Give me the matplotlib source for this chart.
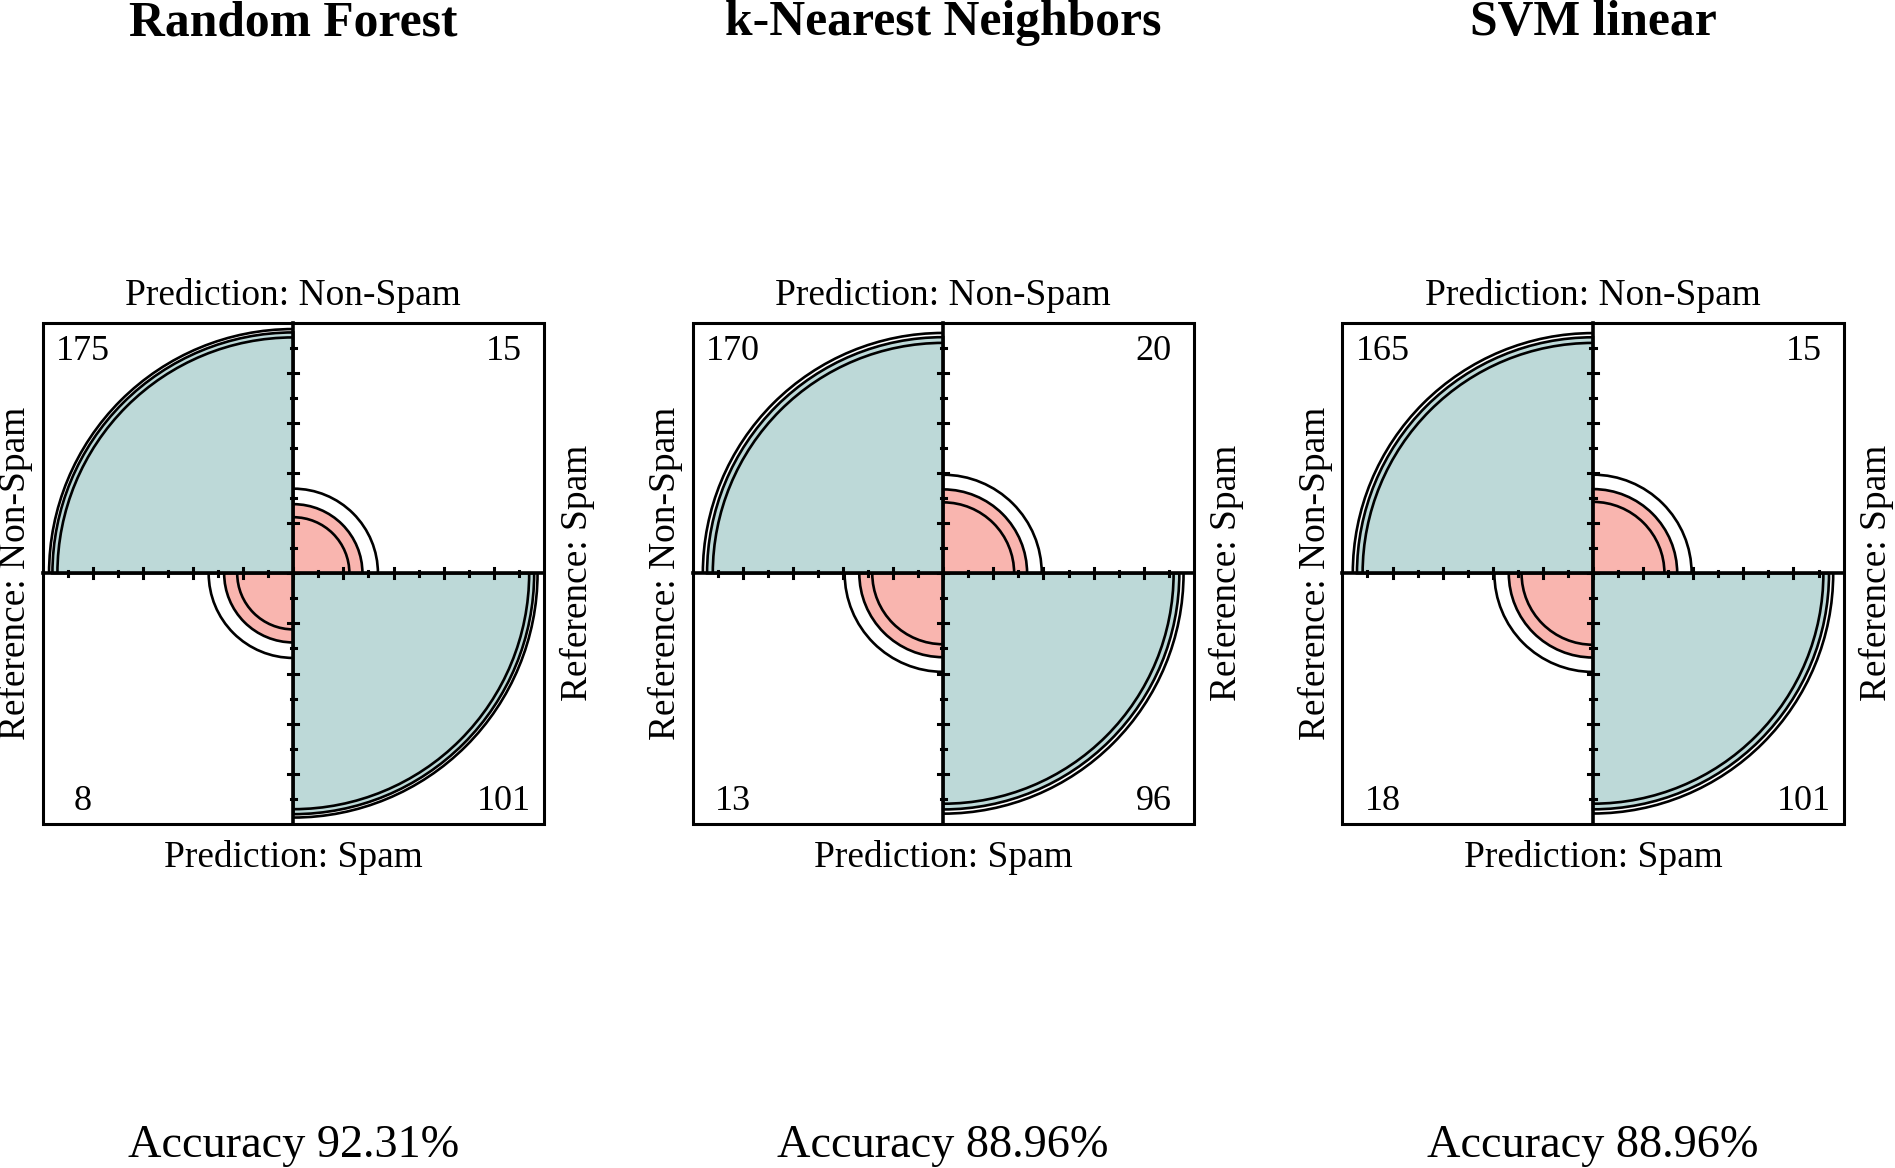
import numpy as np
import matplotlib
matplotlib.use("Agg")
import matplotlib.pyplot as plt
from matplotlib.patches import Wedge, Arc, Rectangle

plt.rcParams['font.family'] = ['Liberation Serif', 'DejaVu Serif']

# data: 2x2 confusion tables (rows = prediction, cols = reference)
models = ["Random Forest", "k-Nearest Neighbors", "SVM linear"]
top_left = [175, 170, 165]      # Pred Non-Spam / Ref Non-Spam
top_right = [15, 20, 15]        # Pred Non-Spam / Ref Spam
bottom_left = [8, 13, 18]       # Pred Spam / Ref Non-Spam
bottom_right = [101, 96, 101]   # Pred Spam / Ref Spam
accuracy = [92.31, 88.96, 88.96]

pred_labels = ["Prediction: Non-Spam", "Prediction: Spam"]
ref_labels = ["Reference: Non-Spam", "Reference: Spam"]

diag_col = "#BDD9D8"
off_col = "#F9B5AF"

W, H = 1895, 1168
centers_px = [293.3, 943.2, 1593.0]
cy_px = 573.3
unit = 250.6      # pixels per data unit (box half width)
pad = 1.3


def std_cells(odds_ratio):
    # standardize to equal row/col margins (as R fourfoldplot std="margins")
    u = np.sqrt(odds_ratio)
    u = u / (1 + u)
    return u, 1 - u


def fourfold(ax, a, b, c, d):
    # a top-left, b top-right, c bottom-left, d bottom-right
    f = np.array([a, b, c, d], dtype=float)
    if np.any(f == 0):
        f = f + 0.5
    orat = f[0] * f[3] / (f[1] * f[2])
    se = np.sqrt(np.sum(1 / f))
    z = 1.959964
    diag, off = std_cells(orat)
    quads = [(90, 180, diag, diag_col), (0, 90, off, off_col),
             (180, 270, off, off_col), (270, 360, diag, diag_col)]
    for t1, t2, v, col in quads:
        ax.add_patch(Wedge((0, 0), np.sqrt(v), t1, t2, facecolor=col,
                           edgecolor="black", lw=1.9, zorder=2))
    # confidence rings
    for th in [orat * np.exp(-z * se), orat * np.exp(z * se)]:
        dg, of = std_cells(th)
        for t1, t2, v in [(90, 180, dg), (0, 90, of), (180, 270, of), (270, 360, dg)]:
            r = np.sqrt(v)
            ax.add_patch(Arc((0, 0), 2 * r, 2 * r, theta1=t1, theta2=t2,
                             color="black", lw=1.9, zorder=3))
    # box and axes
    ax.add_patch(Rectangle((-1, -1), 2, 2, fill=False, edgecolor="black", lw=2.2, zorder=4))
    ax.plot([-1, 1], [0, 0], color="black", lw=2.6, zorder=4)
    ax.plot([0, 0], [-1, 1], color="black", lw=2.6, zorder=4)
    for j in np.arange(-0.8, 0.81, 0.2):
        ax.plot([j, j], [-0.02, 0.02], color="black", lw=2.2, zorder=4)
        ax.plot([-0.02, 0.02], [j, j], color="black", lw=2.2, zorder=4)
    for j in np.arange(-0.9, 0.91, 0.2):
        ax.plot([j, j], [-0.01, 0.01], color="black", lw=2.2, zorder=4)
        ax.plot([-0.01, 0.01], [j, j], color="black", lw=2.2, zorder=4)
    # counts
    fs = 26
    ax.text(-0.84, 0.853, str(a), ha="center", va="baseline", fontsize=fs)
    ax.text(0.84, 0.853, str(b), ha="center", va="baseline", fontsize=fs)
    ax.text(-0.84, -0.943, str(c), ha="center", va="baseline", fontsize=fs)
    ax.text(0.84, -0.943, str(d), ha="center", va="baseline", fontsize=fs)
    # margin labels
    lfs = 26.9
    ax.text(0, 1.071, pred_labels[0], ha="center", va="baseline", fontsize=lfs)
    ax.text(0, -1.173, pred_labels[1], ha="center", va="baseline", fontsize=lfs)
    ax.text(-1.071, 0, ref_labels[0], ha="center", va="baseline", rotation=90,
            rotation_mode="anchor", fontsize=lfs)
    ax.text(1.17, 0, ref_labels[1], ha="center", va="baseline", rotation=90,
            rotation_mode="anchor", fontsize=lfs)


fig = plt.figure(figsize=(W / 100, H / 100), dpi=100)

for i, name in enumerate(models):
    cx = centers_px[i]
    size = 2 * pad * unit
    ax = fig.add_axes([(cx - pad * unit) / W, (H - cy_px - pad * unit) / H, size / W, size / H])
    ax.set_xlim(-pad, pad)
    ax.set_ylim(-pad, pad)
    ax.set_aspect("equal")
    ax.axis("off")
    fourfold(ax, top_left[i], top_right[i], bottom_left[i], bottom_right[i])

    fig.text(cx / W, 1 - 35 / H, name, ha="center", va="baseline",
             fontsize=35.7, fontweight="bold")
    fig.text(cx / W, 1 - 1157 / H, "Accuracy {:.2f}%".format(accuracy[i]),
             ha="center", va="baseline", fontsize=33.3)

fig.savefig("out.png", dpi=100)
